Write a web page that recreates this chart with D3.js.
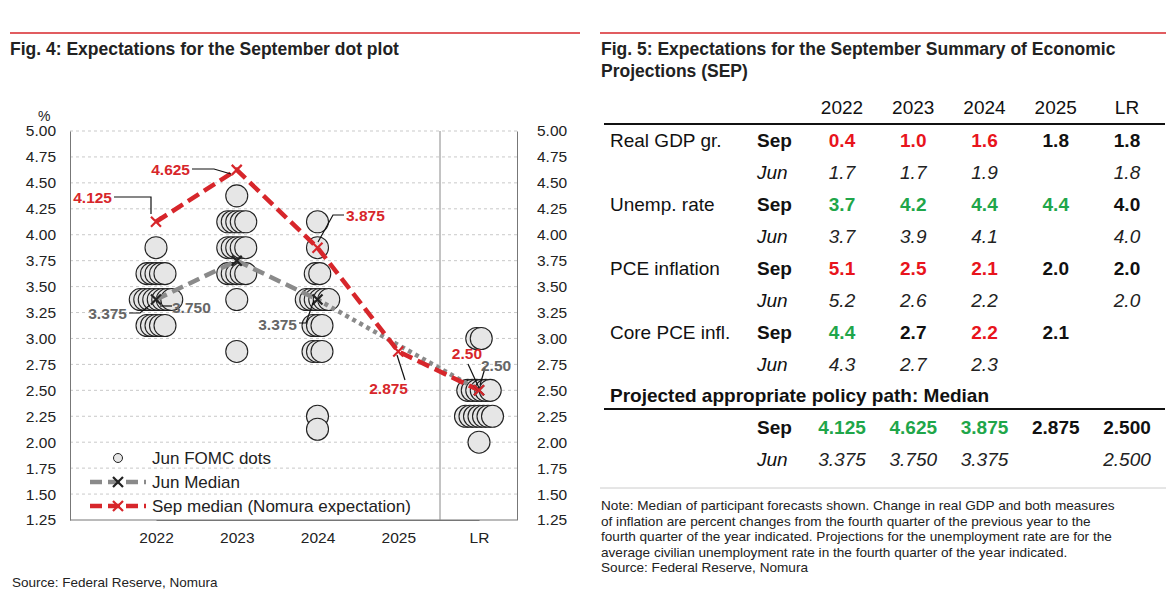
<!DOCTYPE html>
<html><head><meta charset="utf-8">
<script src="https://cdn.jsdelivr.net/npm/d3@7"></script>
<style>body{margin:0;background:#fff;font-family:Arial,"Liberation Sans",sans-serif}</style>
</head><body><svg id="c" width="1175" height="604"></svg>
<script>
// ---- data ----
const categories = ['2022', '2023', '2024', '2025', 'LR'];
const yTicks = [1.25,1.5,1.75,2,2.25,2.5,2.75,3,3.25,3.5,3.75,4,4.25,4.5,4.75,5];
// Jun FOMC dots: [category, rate, count]
const junDots = [
  ['2022',3.875,1],['2022',3.625,5],['2022',3.375,8],['2022',3.125,5],
  ['2023',4.375,1],['2023',4.125,5],['2023',3.875,5],['2023',3.625,5],['2023',3.375,1],['2023',2.875,1],
  ['2024',4.125,1],['2024',3.875,1],['2024',3.625,2],['2024',3.375,6],['2024',3.125,3],['2024',2.875,3],['2024',2.25,1],['2024',2.125,1],
  ['LR',3.0,2],['LR',2.5,6],['LR',2.25,7],['LR',2.0,1]
];
const junMedian = [['2022',3.375],['2023',3.75],['2024',3.375],['LR',2.5]];
const sepMedian = [['2022',4.125],['2023',4.625],['2024',3.875],['2025',2.875],['LR',2.5]];

// table data
const tableCols = ['2022','2023','2024','2025','LR'];
const tableRows = [
  {label:'Real GDP gr.', sep:['0.4','1.0','1.6','1.8','1.8'], sepCol:['r','r','r','k','k'], jun:['1.7','1.7','1.9','','1.8']},
  {label:'Unemp. rate', sep:['3.7','4.2','4.4','4.4','4.0'], sepCol:['g','g','g','g','k'], jun:['3.7','3.9','4.1','','4.0']},
  {label:'PCE inflation', sep:['5.1','2.5','2.1','2.0','2.0'], sepCol:['r','r','r','k','k'], jun:['5.2','2.6','2.2','','2.0']},
  {label:'Core PCE infl.', sep:['4.4','2.7','2.2','2.1',''], sepCol:['g','k','r','k','k'], jun:['4.3','2.7','2.3','','']}
];
const policySep = ['4.125','4.625','3.875','2.875','2.500'];
const policySepCol = ['g','g','g','k','k'];
const policyJun = ['3.375','3.750','3.375','','2.500'];
const colorMap = {r:'#e8141c', g:'#1fa64a', k:'#111'};

const svg = d3.select('#c');
const RED = '#d7262b';
const FS = 19; // table font size

// headers
svg.append('line').attr('x1',10).attr('x2',580).attr('y1',33).attr('y2',33).attr('stroke',RED).attr('stroke-width',1.5);
svg.append('line').attr('x1',600).attr('x2',1166).attr('y1',33).attr('y2',33).attr('stroke',RED).attr('stroke-width',1.5);
svg.append('text').attr('x',10).attr('y',55).attr('font-size',17.5).attr('font-weight','bold').attr('fill','#222')
  .text('Fig. 4: Expectations for the September dot plot');
svg.append('text').attr('x',601).attr('y',55).attr('font-size',17.5).attr('font-weight','bold').attr('fill','#222')
  .text('Fig. 5: Expectations for the September Summary of Economic');
svg.append('text').attr('x',601).attr('y',77).attr('font-size',17.5).attr('font-weight','bold').attr('fill','#222')
  .text('Projections (SEP)');

// ---- left chart ----
const L = 70, R = 517, T = 131, B = 520;
const y = d3.scaleLinear().domain([1.25,5]).range([B,T]);
const x = d3.scalePoint().domain(categories).range([156,479]);
const g = svg.append('g');

g.selectAll('line.grid').data(yTicks.filter(d=>d>1.25)).join('line')
  .attr('x1',L).attr('x2',R).attr('y1',d=>y(d)).attr('y2',d=>y(d))
  .attr('stroke','#bbb').attr('stroke-dasharray','3,3').attr('stroke-width',0.8);

const ax = g.append('g').attr('transform',`translate(${L},0)`).call(d3.axisLeft(y).tickValues(yTicks).tickFormat(d3.format('.2f')).tickSize(0).tickPadding(14));
const ax2 = g.append('g').attr('transform',`translate(${R},0)`).call(d3.axisRight(y).tickValues(yTicks).tickFormat(d3.format('.2f')).tickSize(0).tickPadding(20));
const axb = g.append('g').attr('transform',`translate(0,${B})`).call(d3.axisBottom(x).tickSize(0).tickPadding(12));
[ax,ax2,axb].forEach(a=>{a.select('.domain').attr('stroke','#777');a.selectAll('text').attr('font-size',15.5).attr('fill','#222').attr('font-family','Arial,Liberation Sans')});
g.append('line').attr('x1',L).attr('x2',R).attr('y1',B).attr('y2',B).attr('stroke','#777');
g.append('line').attr('x1',440).attr('x2',440).attr('y1',T).attr('y2',B).attr('stroke','#888');
g.append('text').attr('x',38).attr('y',121).attr('font-size',14).attr('fill','#222').text('%');

// dots
const dotData = [];
junDots.forEach(([c,v,n])=>{for(let i=0;i<n;i++) dotData.push({c,v,off:(i-(n-1)/2)*4.5});});
g.selectAll('circle.dot').data(dotData).join('circle')
  .attr('cx',d=>x(d.c)+d.off).attr('cy',d=>y(d.v)).attr('r',11)
  .attr('fill','#e6e6e6').attr('stroke','#222').attr('stroke-width',1.1);

const line = d3.line().x(d=>x(d[0])).y(d=>y(d[1]));
g.append('path').attr('d',line(junMedian.slice(0,3))).attr('fill','none').attr('stroke','#8a8a8a').attr('stroke-width',4.5).attr('stroke-dasharray','12,6');
g.append('path').attr('d',line(junMedian.slice(2))).attr('fill','none').attr('stroke','#8a8a8a').attr('stroke-width',4.5).attr('stroke-dasharray','4,4');
g.append('path').attr('d',line(sepMedian)).attr('fill','none').attr('stroke',RED).attr('stroke-width',4.5).attr('stroke-dasharray','13,6');

function cross(sel, data, color){
  sel.selectAll(null).data(data).join('path')
    .attr('d',d=>{const cx=x(d[0]),cy=y(d[1]);return `M${cx-5},${cy-5}L${cx+5},${cy+5}M${cx-5},${cy+5}L${cx+5},${cy-5}`;})
    .attr('stroke',color).attr('stroke-width',2.2);
}
cross(g, junMedian, '#222');
cross(g, sepMedian, RED);

// annotations: [cat, value, text, tx, ty, anchor, color, leader points]
const ann = [
  ['2022',4.125,'4.125',112,203,'end',RED,[[114,197],[151,197],[151,214]]],
  ['2023',4.625,'4.625',190,175,'end',RED,[[192,169],[214,169],[231,174]]],
  ['2024',3.875,'3.875',346,221,'start',RED,[[344,215],[333,215],[318,242]]],
  ['2025',2.875,'2.875',408,394,'end',RED,[[405,380],[397,355]]],
  ['LR',2.5,'2.50',482,359,'end',RED,[[468,364],[479,388]]],
  ['2022',3.375,'3.375',127,319,'end','#666',[[129,313],[140,313],[150,305]]],
  ['2022',3.375,'3.750',172,313,'start','#666',[[172,306],[160,306]]],
  ['2024',3.375,'3.375',297,330,'end','#666',[[299,323],[306,323],[314,300]]],
  ['LR',2.5,'2.50',481,371,'start','#666',[[485,368],[480,385]]]
];
ann.forEach(a=>{
  g.append('path').attr('d',d3.line()(a[7])).attr('fill','none').attr('stroke','#111').attr('stroke-width',1.2);
  g.append('text').attr('x',a[3]).attr('y',a[4]).attr('text-anchor',a[5]).attr('fill',a[6])
    .attr('font-size',15.5).attr('font-weight','bold').text(a[2]);
});

// legend
const lg = g.append('g');
lg.append('circle').attr('cx',118).attr('cy',458).attr('r',4.5).attr('fill','#e6e6e6').attr('stroke','#222');
lg.append('text').attr('x',152).attr('y',464).attr('font-size',17).attr('fill','#222').text('Jun FOMC dots');
lg.append('line').attr('x1',90).attr('x2',146).attr('y1',482).attr('y2',482).attr('stroke','#8a8a8a').attr('stroke-width',4.5).attr('stroke-dasharray','12,6');
lg.append('path').attr('d','M113,477L123,487M113,487L123,477').attr('stroke','#222').attr('stroke-width',2.2);
lg.append('text').attr('x',152).attr('y',488).attr('font-size',17).attr('fill','#222').text('Jun Median');
lg.append('line').attr('x1',90).attr('x2',146).attr('y1',506).attr('y2',506).attr('stroke',RED).attr('stroke-width',4.5).attr('stroke-dasharray','12,6');
lg.append('path').attr('d','M113,501L123,511M113,511L123,501').attr('stroke',RED).attr('stroke-width',2.2);
lg.append('text').attr('x',152).attr('y',512).attr('font-size',17).attr('fill','#222').text('Sep median (Nomura expectation)');

svg.append('text').attr('x',12).attr('y',587).attr('font-size',13.5).attr('fill','#222').text('Source: Federal Reserve, Nomura');

// ---- right table ----
const tx = d3.scalePoint().domain(tableCols).range([842,1127]);
const t = svg.append('g').attr('font-family','Arial,Liberation Sans');
t.selectAll('text.h').data(tableCols).join('text').attr('x',d=>tx(d)).attr('y',114).attr('text-anchor','middle')
  .attr('font-size',FS).attr('fill','#111').text(d=>d);
t.append('line').attr('x1',604).attr('x2',1165).attr('y1',124).attr('y2',124).attr('stroke','#111').attr('stroke-width',2);
const rowH = 32;
tableRows.forEach((r,i)=>{
  const ys = 147 + i*2*rowH, yj = ys + rowH;
  t.append('text').attr('x',610).attr('y',ys).attr('font-size',FS).attr('fill','#111').text(r.label);
  t.append('text').attr('x',757).attr('y',ys).attr('font-size',FS).attr('font-weight','bold').attr('fill','#111').text('Sep');
  t.append('text').attr('x',757).attr('y',yj).attr('font-size',FS).attr('font-style','italic').attr('fill','#111').text('Jun');
  r.sep.forEach((v,j)=>t.append('text').attr('x',tx(tableCols[j])).attr('y',ys).attr('text-anchor','middle')
    .attr('font-size',FS).attr('font-weight','bold').attr('fill',colorMap[r.sepCol[j]]).text(v));
  r.jun.forEach((v,j)=>t.append('text').attr('x',tx(tableCols[j])).attr('y',yj).attr('text-anchor','middle')
    .attr('font-size',FS).attr('font-style','italic').attr('fill','#222').text(v));
});
t.append('text').attr('x',610).attr('y',402).attr('font-size',FS).attr('font-weight','bold').attr('fill','#111').text('Projected appropriate policy path: Median');
t.append('line').attr('x1',604).attr('x2',1165).attr('y1',409).attr('y2',409).attr('stroke','#111').attr('stroke-width',2);
t.append('text').attr('x',757).attr('y',434).attr('font-size',FS).attr('font-weight','bold').attr('fill','#111').text('Sep');
t.append('text').attr('x',757).attr('y',466).attr('font-size',FS).attr('font-style','italic').attr('fill','#111').text('Jun');
policySep.forEach((v,j)=>t.append('text').attr('x',tx(tableCols[j])).attr('y',434).attr('text-anchor','middle')
  .attr('font-size',FS).attr('font-weight','bold').attr('fill',colorMap[policySepCol[j]]).text(v));
policyJun.forEach((v,j)=>t.append('text').attr('x',tx(tableCols[j])).attr('y',466).attr('text-anchor','middle')
  .attr('font-size',FS).attr('font-style','italic').attr('fill','#222').text(v));
t.append('line').attr('x1',600).attr('x2',1166).attr('y1',488).attr('y2',488).attr('stroke','#ccc');

const note = ['Note: Median of participant forecasts shown. Change in real GDP and both measures',
  'of inflation are percent changes from the fourth quarter of the previous year to the',
  'fourth quarter of the year indicated. Projections for the unemployment rate are for the',
  'average civilian unemployment rate in the fourth quarter of the year indicated.',
  'Source: Federal Reserve, Nomura'];
t.selectAll('text.note').data(note).join('text').attr('x',601).attr('y',(d,i)=>510+i*15.5)
  .attr('font-size',13.6).attr('fill','#222').text(d=>d);
</script></body></html>
